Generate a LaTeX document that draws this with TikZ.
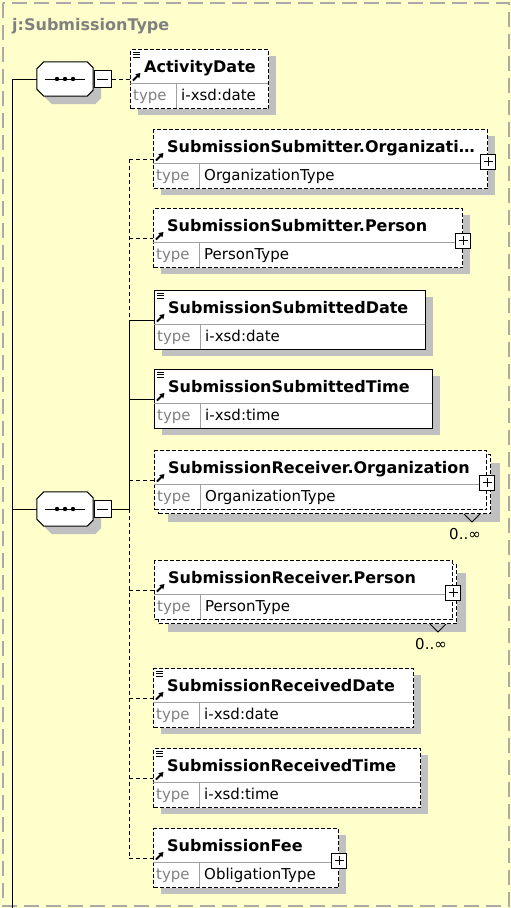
\documentclass[tikz,border=0pt]{standalone}
\usepackage{fontspec}
\setmainfont{DejaVu Sans}
\usepackage{tikz}
\usetikzlibrary{shadows,arrows.meta}
\definecolor{xsd-yellow}{RGB}{255,255,204}
\definecolor{xsd-shadow}{RGB}{192,192,192}
\definecolor{xsd-rule}{RGB}{160,160,160}
\definecolor{xsd-gray}{RGB}{128,128,128}
\definecolor{xsd-frame}{RGB}{170,170,170}
\tikzset{
    frame-line/.style = {draw=xsd-frame, line width=2pt, dash pattern=on 15pt off 7pt},
    title-text/.style = {font=\bfseries\fontsize{16}{19}\selectfont, text=xsd-gray, anchor=base west, inner sep=0pt},
    req-line/.style = {draw=black, line width=1pt},
    opt-line/.style = {draw=black, line width=1pt, dash pattern=on 4pt off 3pt},
    opt-box/.style = {dash pattern=on 4pt off 2pt},
    elem-box/.style = {draw=black, fill=white, rectangle, line width=1pt, inner sep=0pt, anchor=north west, minimum height=59pt},
    one-shadow/.style = {drop shadow={shadow xshift=7pt, shadow yshift=-6pt, fill=xsd-shadow, opacity=1}},
    many-shadow/.style = {drop shadow={shadow xshift=13pt, shadow yshift=-12pt, fill=xsd-shadow, opacity=1}, copy shadow={shadow xshift=4pt, shadow yshift=-4pt, draw=black, fill=white}},
    elem-name/.style = {font=\bfseries\fontsize{16}{19}\selectfont, anchor=base west, inner sep=0pt},
    elem-key/.style = {font=\fontsize{15}{18}\selectfont, text=xsd-gray, anchor=base west, inner sep=0pt},
    elem-type/.style = {font=\fontsize{15}{18}\selectfont, anchor=base west, inner sep=0pt},
    ref-arrow/.style = {-{Triangle[length=4.5pt,width=5.5pt]}, line width=1.8pt},
    doc-lines/.style = {draw=black, line width=1pt},
    plus-box/.style = {draw=black, fill=white, line width=1pt, minimum size=15pt, inner sep=0pt,
        path picture={\draw ([yshift=-3pt]path picture bounding box.north) -- ([yshift=3pt]path picture bounding box.south);
                      \draw ([xshift=3pt]path picture bounding box.west) -- ([xshift=-3pt]path picture bounding box.east);}},
    minus-box/.style = {draw=black, fill=white, line width=1pt, minimum size=17pt, inner sep=0pt,
        path picture={\draw ([xshift=3pt]path picture bounding box.west) -- ([xshift=-3pt]path picture bounding box.east);}},
    seq-box/.style = {rectangle, minimum width=56pt, minimum height=34pt, inner sep=0pt},
    seq-shape/.style = {draw=black, fill=white, line width=1pt},
    seq-shadow/.style = {fill=xsd-shadow, transform canvas={xshift=8pt, yshift=-8pt}},
    many-mark/.style = {draw=black, line width=0.8pt},
}
\newcommand{\octpath}[1]{([xshift=7pt]#1.north west) -- ([xshift=-6pt]#1.north east) -- ([yshift=-6pt]#1.north east)
    -- ([yshift=6pt]#1.south east) -- ([xshift=-6pt]#1.south east) -- ([xshift=7pt]#1.south west)
    -- ([yshift=7pt]#1.south west) -- ([yshift=-7pt]#1.north west) -- cycle}
\newcommand{\seqnode}[3]{%
    \node[seq-box] (#1) at (#2,#3) {};
    \fill[seq-shadow] \octpath{#1};
    \path[seq-shape] \octpath{#1};
    \draw[req-line] ([xshift=-20pt]#1.center) -- ([xshift=20pt]#1.center);
    \fill ([xshift=-8pt]#1.center) circle (2.2pt) (#1.center) circle (2.2pt) ([xshift=8pt]#1.center) circle (2.2pt);
    \node[minus-box] (#1-m) at (#2+37.5,#3) {};
}
\newcommand{\elembox}[7]{%
    \node[elem-box, #5, minimum width=#4pt] (#1) at (#2,#3-30) {};
    \draw[xsd-rule, line width=1pt] (#2,#3+4) -- ++(#4,0) (#2+46,#3+4) -- ++(0,25);
    \coordinate (#1-in) at (#2,#3);
    \draw[ref-arrow] (#2+3,#3+1.5) -- (#2+10.5,#3-6);
    \node[elem-name] (#1-name) at (#2+14,#3-7) {#6};
    \node[elem-key] (#1-key) at (#2+3,#3+21) {type};
    \node[elem-type] (#1-type) at (#2+51,#3+21) {#7};
}
\newcommand{\doclines}[2]{%
    \draw[doc-lines] (#1+3,#2-27) -- ++(7,0) (#1+3,#2-24.5) -- ++(7,0) (#1+3,#2-22) -- ++(7,0);
}
\newcommand{\expandbox}[1]{%
    \node[plus-box] (#1-plus) at ([yshift=-2.5pt]#1.east) {};
}
\newcommand{\manymark}[1]{%
    \draw[many-mark] ([xshift=-23pt,yshift=-4pt]#1.south east) -- ++(8,8) -- ++(8,-8);
    \node[elem-type, anchor=east] (#1-occ) at ([xshift=-6pt,yshift=-24pt]#1.south east) {0..∞};
}

\begin{document}
\begin{tikzpicture}[x=1pt, y=-1pt]
\useasboundingbox (0,0) rectangle (511,908);
\fill[xsd-yellow] (0,0) rectangle (511,908);
\draw[frame-line] (3,3) rectangle (509,906);
\node[title-text] (title) at (12,30) {j:SubmissionType};

\seqnode{seq1}{65}{79}
\seqnode{seq2}{65}{509}

\elembox{act}{130}{79}{138}{one-shadow, opt-box}{ActivityDate}{i-xsd:date}
\doclines{130}{79}
\elembox{sso}{153}{159}{334}{one-shadow, opt-box}{SubmissionSubmitter.Organizati…}{OrganizationType}
\expandbox{sso}
\elembox{ssp}{153}{238}{309}{one-shadow, opt-box}{SubmissionSubmitter.Person}{PersonType}
\expandbox{ssp}
\elembox{ssd}{154}{320}{271}{one-shadow}{SubmissionSubmittedDate}{i-xsd:date}
\doclines{154}{320}
\elembox{sst}{154}{399}{278}{one-shadow}{SubmissionSubmittedTime}{i-xsd:time}
\doclines{154}{399}
\elembox{sro}{154}{480}{332}{many-shadow, opt-box}{SubmissionReceiver.Organization}{OrganizationType}
\expandbox{sro}
\manymark{sro}
\elembox{srp}{154}{590}{298}{many-shadow, opt-box}{SubmissionReceiver.Person}{PersonType}
\expandbox{srp}
\manymark{srp}
\elembox{srd}{153}{698}{260}{one-shadow, opt-box}{SubmissionReceivedDate}{i-xsd:date}
\doclines{153}{698}
\elembox{srt}{153}{778}{267}{one-shadow, opt-box}{SubmissionReceivedTime}{i-xsd:time}
\doclines{153}{778}
\elembox{fee}{153}{858}{185}{one-shadow, opt-box}{SubmissionFee}{ObligationType}
\expandbox{fee}

\coordinate (rail-end) at (12,908);
\draw[req-line] (seq1.west) -| (rail-end);
\draw[req-line] (seq2.west) -- (seq2.west -| rail-end);
\draw[opt-line] (seq1-m.east) -- (act-in);

\coordinate (spine) at (129,509);
\draw[req-line] (seq2-m.east) -- (spine);
\draw[opt-line] (spine |- sso-in) -- (spine |- ssd-in);
\draw[req-line] (spine |- ssd-in) -- (spine);
\draw[opt-line] (spine) -- (spine |- fee-in);
\draw[opt-line] (spine |- sso-in) -- (sso-in);
\draw[opt-line] (spine |- ssp-in) -- (ssp-in);
\draw[req-line] (spine |- ssd-in) -- (ssd-in);
\draw[req-line] (spine |- sst-in) -- (sst-in);
\draw[opt-line] (spine |- sro-in) -- (sro-in);
\draw[opt-line] (spine |- srp-in) -- (srp-in);
\draw[opt-line] (spine |- srd-in) -- (srd-in);
\draw[opt-line] (spine |- srt-in) -- (srt-in);
\draw[opt-line] (spine |- fee-in) -- (fee-in);
\end{tikzpicture}
\end{document}
